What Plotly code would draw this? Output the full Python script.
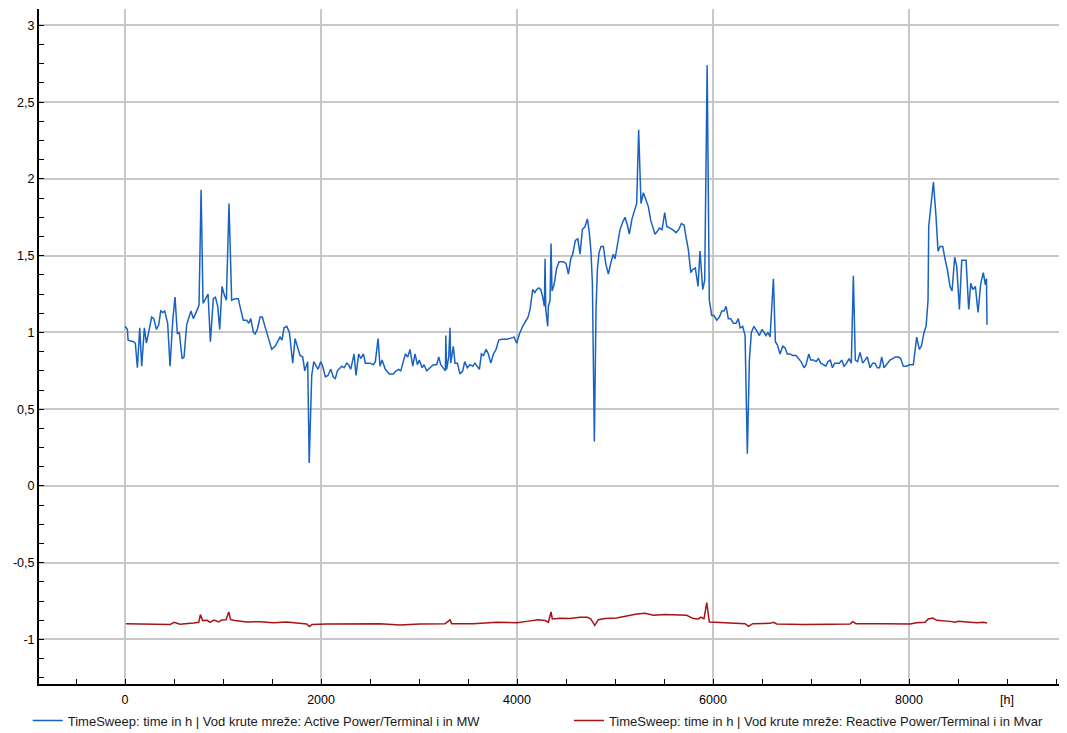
import plotly.graph_objects as go

# Active power (MW)
hours_p = [
    0, 24, 31, 85, 105, 126, 150, 170, 197, 218, 272, 293, 320, 344, 364, 385, 405, 435, 459, 487,
    510, 534, 554, 582, 602, 629, 673, 697, 745, 755, 776, 796, 823, 847, 871, 901, 922, 946, 966, 990,
    1010, 1034, 1061, 1088, 1122, 1156, 1173, 1207, 1242, 1262, 1283, 1310, 1327, 1350, 1378, 1401, 1432, 1463, 1497, 1531,
    1582, 1602, 1622, 1650, 1677, 1711, 1735, 1758, 1786, 1813, 1834, 1854, 1864, 1879, 1905, 1926, 1970, 1997, 2017, 2044,
    2071, 2099, 2126, 2146, 2167, 2211, 2235, 2262, 2282, 2303, 2337, 2357, 2384, 2405, 2432, 2452, 2500, 2534, 2554, 2582,
    2602, 2623, 2656, 2697, 2738, 2765, 2793, 2813, 2834, 2861, 2885, 2908, 2936, 2959, 2983, 3003, 3031, 3051, 3078, 3112,
    3146, 3180, 3201, 3222, 3248, 3269, 3273, 3282, 3303, 3316, 3323, 3350, 3367, 3391, 3418, 3446, 3466, 3493, 3520, 3548,
    3571, 3616, 3636, 3657, 3684, 3708, 3732, 3759, 3786, 3813, 3844, 3895, 3922, 3970, 3997, 4024, 4058, 4085, 4112, 4133,
    4160, 4180, 4201, 4221, 4242, 4262, 4279, 4286, 4293, 4313, 4320, 4337, 4347, 4357, 4378, 4405, 4429, 4473, 4500, 4524,
    4548, 4568, 4595, 4620, 4643, 4667, 4694, 4718, 4738, 4755, 4769, 4789, 4806, 4820, 4837, 4857, 4881, 4905, 4932, 4959,
    4983, 5000, 5024, 5051, 5079, 5102, 5126, 5146, 5173, 5194, 5221, 5241, 5265, 5289, 5313, 5340, 5364, 5391, 5408, 5432,
    5452, 5480, 5507, 5528, 5554, 5588, 5622, 5650, 5677, 5704, 5725, 5748, 5773, 5793, 5819, 5847, 5867, 5895, 5915, 5940,
    5962, 5987, 6010, 6038, 6065, 6089, 6112, 6133, 6156, 6180, 6207, 6235, 6258, 6276, 6303, 6327, 6350, 6371, 6391, 6418,
    6446, 6473, 6500, 6541, 6561, 6582, 6616, 6636, 6656, 6684, 6711, 6735, 6758, 6786, 6813, 6847, 6871, 6898, 6929, 6949,
    6977, 6997, 7024, 7051, 7075, 7099, 7126, 7150, 7173, 7197, 7218, 7242, 7265, 7289, 7313, 7337, 7364, 7388, 7411, 7432,
    7452, 7476, 7500, 7527, 7551, 7574, 7602, 7629, 7653, 7677, 7700, 7721, 7745, 7772, 7806, 7833, 7860, 7891, 7915, 7942,
    7976, 8003, 8044, 8078, 8105, 8126, 8153, 8174, 8194, 8201, 8221, 8249, 8276, 8296, 8317, 8344, 8367, 8391, 8418, 8439,
    8466, 8487, 8514, 8538, 8582, 8609, 8630, 8650, 8677, 8704, 8732, 8758, 8779, 8790, 8796,
]
active_mw = [
    1.04, 1.02, 0.95, 0.94, 0.93, 0.77, 1.03, 0.78, 1.03, 0.93, 1.10, 1.09, 1.02, 1.05, 1.14, 1.13, 1.14, 1.06, 0.78, 1.08,
    1.23, 0.99, 1.00, 0.83, 0.84, 1.05, 1.14, 1.09, 1.16, 1.18, 1.93, 1.19, 1.22, 1.25, 0.94, 1.22, 1.23, 1.17, 1.02, 1.30,
    1.25, 1.21, 1.84, 1.21, 1.22, 1.22, 1.17, 1.08, 1.08, 1.06, 1.09, 1.00, 0.99, 1.02, 1.10, 1.10, 1.03, 0.96, 0.89, 0.91,
    0.97, 0.95, 1.03, 1.04, 1.00, 0.80, 0.96, 0.91, 0.85, 0.84, 0.75, 0.79, 0.81, 0.15, 0.72, 0.81, 0.76, 0.81, 0.78, 0.71,
    0.72, 0.76, 0.71, 0.70, 0.75, 0.78, 0.77, 0.80, 0.79, 0.76, 0.86, 0.72, 0.86, 0.83, 0.86, 0.80, 0.80, 0.79, 0.81, 0.96,
    0.78, 0.82, 0.76, 0.73, 0.73, 0.75, 0.76, 0.75, 0.80, 0.86, 0.84, 0.89, 0.78, 0.86, 0.79, 0.82, 0.77, 0.79, 0.75, 0.77,
    0.79, 0.79, 0.84, 0.79, 0.77, 0.75, 0.98, 0.76, 0.84, 1.03, 0.80, 0.91, 0.80, 0.80, 0.73, 0.75, 0.81, 0.77, 0.79, 0.78,
    0.80, 0.76, 0.86, 0.85, 0.89, 0.86, 0.80, 0.86, 0.89, 0.95, 0.955, 0.955, 0.96, 0.97, 0.93, 0.99, 1.04, 1.07, 1.10, 1.15,
    1.28, 1.26, 1.28, 1.29, 1.28, 1.23, 1.17, 1.48, 1.15, 1.04, 1.17, 1.21, 1.58, 1.27, 1.31, 1.42, 1.46, 1.46, 1.45, 1.38,
    1.48, 1.51, 1.60, 1.61, 1.51, 1.67, 1.69, 1.74, 1.65, 1.52, 1.32, 0.29, 1.15, 1.41, 1.52, 1.56, 1.56, 1.45, 1.38, 1.46,
    1.51, 1.48, 1.57, 1.67, 1.72, 1.75, 1.70, 1.64, 1.74, 1.79, 1.84, 2.32, 1.84, 1.91, 1.87, 1.82, 1.73, 1.68, 1.64, 1.66,
    1.68, 1.67, 1.78, 1.69, 1.68, 1.67, 1.65, 1.67, 1.71, 1.70, 1.62, 1.54, 1.39, 1.41, 1.42, 1.30, 1.53, 1.28, 1.34, 2.74,
    1.21, 1.11, 1.11, 1.08, 1.10, 1.14, 1.14, 1.17, 1.09, 1.09, 1.06, 1.06, 1.09, 1.03, 1.04, 0.98, 0.21, 0.82, 1.00, 1.04,
    1.01, 0.98, 1.02, 0.98, 1.00, 0.97, 1.35, 0.94, 0.92, 0.86, 0.91, 0.90, 0.86, 0.86, 0.85, 0.85, 0.83, 0.81, 0.77, 0.79,
    0.86, 0.82, 0.82, 0.81, 0.83, 0.80, 0.79, 0.78, 0.81, 0.82, 0.77, 0.80, 0.80, 0.80, 0.82, 0.78, 0.80, 0.83, 0.80, 1.37,
    0.82, 0.81, 0.87, 0.80, 0.82, 0.84, 0.77, 0.80, 0.80, 0.77, 0.77, 0.84, 0.77, 0.79, 0.82, 0.83, 0.84, 0.84, 0.83, 0.78,
    0.78, 0.79, 0.79, 0.97, 0.89, 0.91, 1.00, 1.04, 1.21, 1.69, 1.82, 1.98, 1.75, 1.53, 1.56, 1.56, 1.48, 1.41, 1.30, 1.27,
    1.49, 1.43, 1.15, 1.47, 1.47, 1.15, 1.32, 1.28, 1.30, 1.13, 1.32, 1.39, 1.31, 1.35, 1.05,
]

# Reactive power (Mvar)
hours_q = [
    10, 153, 300, 459, 500, 561, 697, 752, 769, 793, 840, 867, 908, 956, 987, 1031, 1058, 1078, 1122, 1242,
    1378, 1514, 1650, 1786, 1854, 1881, 1908, 2058, 2330, 2602, 2806, 3010, 3265, 3316, 3333, 3554, 3793, 3997, 4099, 4218,
    4286, 4320, 4347, 4360, 4439, 4541, 4643, 4718, 4752, 4793, 4830, 4898, 5017, 5153, 5221, 5306, 5391, 5510, 5629, 5731,
    5799, 5850, 5875, 5908, 5936, 5962, 6020, 6241, 6327, 6361, 6405, 6582, 6616, 6650, 6922, 7194, 7398, 7425, 7459, 7738,
    8010, 8078, 8163, 8197, 8242, 8283, 8350, 8418, 8469, 8503, 8622, 8690, 8758, 8796,
]
reactive_mvar = [
    -0.897, -0.899, -0.899, -0.903, -0.888, -0.901, -0.893, -0.888, -0.838, -0.877, -0.875, -0.888, -0.873, -0.886, -0.873, -0.871, -0.821, -0.871, -0.877, -0.886,
    -0.884, -0.891, -0.886, -0.895, -0.899, -0.916, -0.903, -0.899, -0.897, -0.897, -0.906, -0.899, -0.897, -0.873, -0.897, -0.897, -0.888, -0.891, -0.882, -0.871,
    -0.877, -0.888, -0.821, -0.866, -0.862, -0.864, -0.855, -0.855, -0.866, -0.908, -0.871, -0.864, -0.860, -0.842, -0.834, -0.829, -0.842, -0.838, -0.842, -0.842,
    -0.864, -0.866, -0.855, -0.864, -0.760, -0.886, -0.888, -0.891, -0.897, -0.914, -0.897, -0.895, -0.888, -0.899, -0.903, -0.901, -0.899, -0.884, -0.897, -0.897,
    -0.899, -0.891, -0.888, -0.866, -0.860, -0.875, -0.877, -0.882, -0.888, -0.882, -0.888, -0.891, -0.888, -0.893,
]

y_tickvals = [-1, -0.5, 0, 0.5, 1, 1.5, 2, 2.5, 3]
y_ticktext = ["-1", "-0,5", "0", "0,5", "1", "1,5", "2", "2,5", "3"]
x_tickvals = [0, 2000, 4000, 6000, 8000]
x_ticktext = ["0", "2000", "4000", "6000", "8000"]

FONT = "Liberation Sans, Arial, sans-serif"

fig = go.Figure()
fig.add_trace(go.Scatter(
    x=hours_p, y=active_mw, mode="lines",
    name="TimeSweep: time in h | Vod krute mreže: Active Power/Terminal i in MW",
    line=dict(color="#1a62c2", width=1.5),
    legend="legend",
))
fig.add_trace(go.Scatter(
    x=hours_q, y=reactive_mvar, mode="lines",
    name="TimeSweep: time in h | Vod krute mreže: Reactive Power/Terminal i in Mvar",
    line=dict(color="#a51416", width=1.5),
    legend="legend2",
))

legend_style = dict(
    orientation="h", xanchor="left", y=-0.032, yanchor="top",
    font=dict(size=13, color="#1a1a1a"), bgcolor="rgba(0,0,0,0)",
)

# the page body adds an 8px margin, so the figure is 8px smaller
fig.update_layout(
    width=1059, height=725,
    margin=dict(l=31, r=5, t=1, b=49, autoexpand=False),
    separators=",.",
    paper_bgcolor="white", plot_bgcolor="white",
    font=dict(family=FONT, size=12, color="black"),
    showlegend=True,
    legend=dict(x=-0.011, **legend_style),
    legend2=dict(x=0.518, **legend_style),
    xaxis=dict(
        range=[-878, 9561],
        tickmode="array", tickvals=x_tickvals, ticktext=x_ticktext,
        ticks="inside", ticklen=5, tickcolor="black", ticklabelstandoff=3,
        showline=True, linecolor="black", linewidth=2,
        showgrid=True, gridcolor="#c8c8c8", gridwidth=1.5,
        zeroline=False, tickfont=dict(size=12.5),
        minor=dict(tickmode="linear", tick0=0, dtick=500, ticks="inside",
                   ticklen=5, tickcolor="black", showgrid=False),
    ),
    yaxis=dict(
        range=[-1.29, 3.107],
        tickmode="array", tickvals=y_tickvals, ticktext=y_ticktext,
        ticks="inside", ticklen=5, tickcolor="black",
        showline=True, linecolor="black", linewidth=2,
        showgrid=True, gridcolor="#c8c8c8", gridwidth=1.5,
        zeroline=False, tickfont=dict(size=12.5),
        minor=dict(tickmode="linear", tick0=0, dtick=0.125, ticks="inside",
                   ticklen=5, tickcolor="black", showgrid=False),
    ),
)

# unit label in place of the 9000 tick
fig.add_annotation(
    x=9000, xref="x", y=0, yref="paper", yanchor="top", yshift=-7,
    text="[h]", showarrow=False, font=dict(size=12.5, color="black"),
)

fig.write_html("out.html")
